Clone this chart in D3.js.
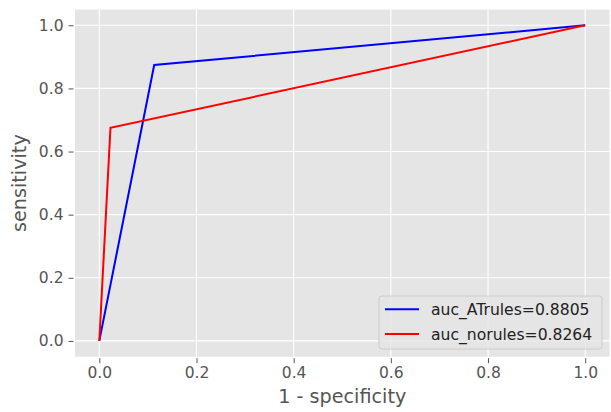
<!DOCTYPE html>
<html>
<head>
<meta charset="utf-8">
<script src="https://cdn.jsdelivr.net/npm/d3@7"></script>
<style>
  html, body { margin: 0; padding: 0; background: #ffffff; }
  svg { display: block; font-family: "DejaVu Sans", sans-serif; }
</style>
</head>
<body>
<svg id="chart" width="611" height="412"></svg>
<script>
// ROC curves: false positive rate (1 - specificity) vs true positive rate
const fprATrules = [0, 0.113, 1];
const tprATrules = [0, 0.874, 1];
const fprNorules = [0, 0.023, 1];
const tprNorules = [0, 0.675, 1];
const seriesNames = ["auc_ATrules=0.8805", "auc_norules=0.8264"];
const seriesColors = ["#0000ff", "#ff0000"];
const xTicks = [0, 0.2, 0.4, 0.6, 0.8, 1.0];
const yTicks = [0, 0.2, 0.4, 0.6, 0.8, 1.0];

const svg = d3.select("#chart");
const plot = { left: 75, top: 9.5, right: 609.5, bottom: 356.7 };

const x = d3.scaleLinear().domain([-0.05, 1.05]).range([plot.left, plot.right]);
const y = d3.scaleLinear().domain([-0.05, 1.05]).range([plot.bottom, plot.top]);

// panel background
svg.append("rect")
  .attr("x", plot.left).attr("y", plot.top)
  .attr("width", plot.right - plot.left).attr("height", plot.bottom - plot.top)
  .attr("fill", "#e5e5e5");

// white grid
const grid = svg.append("g");
grid.selectAll("line.vx").data(xTicks).join("line")
  .attr("x1", d => x(d)).attr("x2", d => x(d))
  .attr("y1", plot.top).attr("y2", plot.bottom)
  .attr("stroke", "#ffffff").attr("stroke-width", 1.1);
grid.selectAll("line.hy").data(yTicks).join("line")
  .attr("y1", d => y(d)).attr("y2", d => y(d))
  .attr("x1", plot.left).attr("x2", plot.right)
  .attr("stroke", "#ffffff").attr("stroke-width", 1.1);

// axes
const xAxis = d3.axisBottom(x).tickValues(xTicks).tickFormat(d3.format(".1f"))
  .tickSize(5).tickPadding(4);
const yAxis = d3.axisLeft(y).tickValues(yTicks).tickFormat(d3.format(".1f"))
  .tickSize(5).tickPadding(5);

const gx = svg.append("g").attr("transform", `translate(0,${plot.bottom + 1.5})`).call(xAxis);
const gy = svg.append("g").attr("transform", `translate(${plot.left - 1.5},0)`).call(yAxis);
[gx, gy].forEach(g => {
  g.select(".domain").remove();
  g.selectAll(".tick line").attr("stroke", "#555555").attr("stroke-width", 1);
  g.selectAll(".tick text").attr("fill", "#555555")
    .style("font-family", "'DejaVu Sans', sans-serif").style("font-size", "15.5px");
});

// axis titles
svg.append("text")
  .attr("x", (plot.left + plot.right) / 2).attr("y", 403)
  .attr("text-anchor", "middle").attr("fill", "#555555")
  .style("font-size", "19.2px").text("1 - specificity");
svg.append("text")
  .attr("transform", `translate(26,${(plot.top + plot.bottom) / 2}) rotate(-90)`)
  .attr("text-anchor", "middle").attr("fill", "#555555")
  .style("font-size", "19.2px").text("sensitivity");

// ROC lines
const series = [
  d3.zip(fprATrules, tprATrules),
  d3.zip(fprNorules, tprNorules)
];
const line = d3.line().x(d => x(d[0])).y(d => y(d[1]));
svg.append("g").selectAll("path").data(series).join("path")
  .attr("d", line)
  .attr("fill", "none")
  .attr("stroke", (d, i) => seriesColors[i])
  .attr("stroke-width", 2)
  .attr("stroke-linejoin", "miter");

// legend
const lg = svg.append("g");
lg.append("rect")
  .attr("x", 379).attr("y", 296).attr("width", 223).attr("height", 53)
  .attr("rx", 3).attr("ry", 3)
  .attr("fill", "#e5e5e5").attr("fill-opacity", 0.8)
  .attr("stroke", "#cccccc").attr("stroke-width", 1);
seriesNames.forEach((name, i) => {
  const cy = 309.3 + i * 24.7;
  lg.append("line")
    .attr("x1", 385).attr("x2", 419).attr("y1", cy).attr("y2", cy)
    .attr("stroke", seriesColors[i]).attr("stroke-width", 2);
  lg.append("text")
    .attr("x", 431).attr("y", cy + 6)
    .attr("fill", "#222222")
    .style("font-size", "15.6px").text(name);
});
</script>
</body>
</html>
